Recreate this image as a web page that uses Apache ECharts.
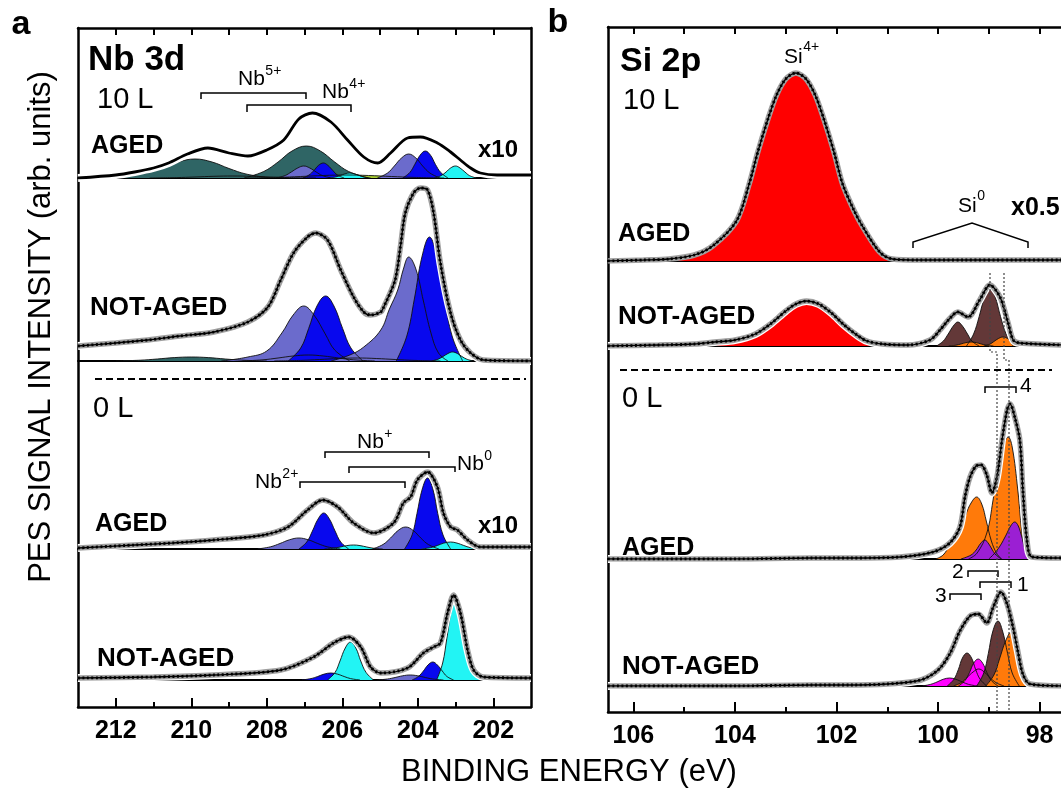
<!DOCTYPE html>
<html><head><meta charset="utf-8">
<script src="https://cdn.jsdelivr.net/npm/echarts@6/dist/echarts.min.js"></script>
<style>html,body{margin:0;padding:0;background:#fff}#c{width:1061px;height:791px}</style>
</head><body><div id="c"></div>
<script>
// ---------------- DATA ----------------
// axis ticks (binding energy, eV)
const nbMajorTicks = [212, 210, 208, 206, 204, 202];
const nbMinorTicks = [211, 209, 207, 205, 203];
const nbTopTicks = [212, 211, 210, 209, 208, 207, 206, 205, 204, 203, 202];
const siMajorTicks = [106, 104, 102, 100, 98];
const siMinorTicks = [105, 103, 101, 99];
const siTopTicks = [106, 105, 104, 103, 102, 101, 100, 99, 98];

// Each spectrum: [binding energy (eV), intensity above its baseline (arb. units)]
// ---- Nb 3d, 10 L, AGED (x10)
const nbA10Env = [[213.0,0],[212.0,3],[211.5,6],[211.0,10],[210.6,15],[210.1,24],[209.56,30],[209.0,25],[208.5,22],[208.0,28],[207.55,38],[207.15,59],[206.79,65],[206.3,56],[205.86,38],[205.43,21],[205.06,15],[204.72,25],[204.27,40],[203.93,41],[203.48,35],[203.13,26],[202.87,18],[202.6,10],[202.34,5],[201.9,3],[201.0,3]];
const nbA10Yg2 = [[211.1,0],[210.4,0.4],[209.9,1],[209.4,1.7],[208.9,2],[208.4,1.7],[207.9,1],[207.4,0.4],[206.7,0]];
const nbA10Yg1 = [[208.5,0],[207.7,0.6],[207.1,1.5],[206.5,2.5],[205.9,3],[205.3,2.5],[204.7,1.5],[204.1,0.6],[203.3,0]];
const nbA10Teal1 = [[213.0,0],[212.2,1.5],[211.3,4.5],[210.8,9.5],[210.35,16],[209.9,19],[209.45,16],[209.0,9.5],[208.55,4],[207.9,0]];
const nbA10Teal2 = [[208.6,0],[208.08,6.5],[207.7,16],[207.33,27],[206.95,32],[206.58,27],[206.2,16],[205.83,6.5],[205.3,0]];
const nbA10Lav1 = [[207.74,0],[207.51,2.5],[207.35,6],[207.18,10],[207.02,12],[206.86,10],[206.69,6],[206.53,2.5],[206.3,0]];
const nbA10Lav2 = [[205.07,0],[204.8,5],[204.62,12],[204.43,20],[204.24,24],[204.05,20],[203.87,12],[203.68,5],[203.41,0]];
const nbA10Blue1 = [[207.05,0],[206.88,3],[206.75,7.5],[206.63,12.6],[206.5,15],[206.38,12.6],[206.25,7.5],[206.13,3],[205.95,0]];
const nbA10Blue2 = [[204.4,0],[204.21,5.5],[204.08,13.5],[203.94,22.7],[203.8,27],[203.66,22.7],[203.53,13.5],[203.39,5.5],[203.2,0]];
const nbA10Cyan1 = [[206.35,0],[206.18,1],[206.05,2.5],[205.93,4.2],[205.8,5],[205.68,4.2],[205.55,2.5],[205.43,1],[205.25,0]];
const nbA10Cyan2 = [[203.55,0],[203.38,2.4],[203.25,6],[203.13,10],[203.0,12],[202.88,10],[202.75,6],[202.63,2.4],[202.45,0]];

// ---- Nb 3d, 10 L, NOT-AGED
const nbN10Env = [[213.0,15],[212.0,18],[211.15,21],[210.3,25],[209.4,29],[208.5,39],[207.97,54],[207.63,81],[207.29,108],[206.92,124],[206.7,128],[206.39,121],[206.04,91],[205.7,64],[205.43,49],[205.25,46],[204.98,49],[204.9,54],[204.6,81],[204.46,114],[204.33,148],[204.11,168],[203.93,173],[203.74,171],[203.58,148],[203.4,98],[203.13,48],[202.87,21],[202.6,8],[202.26,1],[201.0,0]];
const nbN10Teal1 = [[212.0,0],[211.35,0.8],[210.9,2],[210.45,3.4],[210.0,4],[209.55,3.4],[209.1,2],[208.65,0.8],[208.0,0]];
const nbN10Teal2 = [[208.66,0],[208.1,1.2],[207.7,3],[207.3,5],[206.9,6],[206.5,5],[206.1,3],[205.7,1.2],[205.14,0]];
const nbN10Yg = [[207.8,0],[207.1,0.6],[206.6,1.5],[206.1,2.5],[205.6,3],[205.1,2.5],[204.6,1.5],[204.1,0.6],[203.4,0]];
const nbN10Lav1 = [[209.2,0],[208.5,4],[208.0,10],[207.6,28],[207.3,46],[207.02,55],[206.75,46],[206.45,27],[206.2,11],[205.8,0]];
const nbN10Blue1 = [[207.43,0],[207.1,13],[206.89,32.5],[206.67,55],[206.44,65],[206.22,55],[205.99,32.5],[205.77,13],[205.45,0]];
const nbN10Lav2 = [[206.3,0],[205.8,6],[205.43,14],[204.98,31],[204.75,52],[204.53,71],[204.38,92],[204.24,104],[204.05,92],[203.85,60],[203.65,28],[203.45,8],[203.2,0]];
const nbN10Blue2 = [[204.57,0],[204.29,25],[204.09,62],[203.89,104],[203.69,124],[203.49,104],[203.29,62],[203.09,25],[202.81,0]];
const nbN10Cyan = [[203.63,0],[203.46,1.8],[203.33,4.5],[203.2,7.5],[203.08,9],[202.95,7.5],[202.83,4.5],[202.7,1.8],[202.53,0]];

// ---- Nb 3d, 0 L, AGED (x10)
const nbA0Env = [[213.0,1],[211.5,4],[210.5,6],[209.4,9],[208.08,14],[207.44,22],[206.92,39],[206.52,49],[206.12,42],[205.7,26],[205.17,16],[204.64,26],[204.38,46],[204.19,52],[204.01,69],[203.74,77],[203.48,62],[203.32,36],[203.13,22],[202.95,19],[202.68,9],[202.34,2],[201.0,2]];
const nbA0Lav1 = [[208.25,0],[207.9,2.2],[207.65,5.5],[207.4,9.2],[207.15,11],[206.9,9.2],[206.65,5.5],[206.4,2.2],[206.05,0]];
const nbA0Blue1 = [[207.15,0],[206.94,7],[206.79,18],[206.64,30],[206.49,36],[206.34,30],[206.19,18],[206.04,7],[205.83,0]];
const nbA0Cyan1 = [[206.47,0],[206.23,0.8],[206.05,2],[205.88,3.4],[205.7,4],[205.53,3.4],[205.35,2],[205.18,0.8],[204.93,0]];
const nbA0Lav2 = [[205.2,0],[204.92,4.5],[204.72,11],[204.52,18.5],[204.32,22],[204.12,18.5],[203.92,11],[203.72,4.5],[203.44,0]];
const nbA0Blue2 = [[204.35,0],[204.15,14],[204.02,35.5],[203.88,60],[203.74,71],[203.6,60],[203.47,35.5],[203.33,14],[203.13,0]];
const nbA0Cyan2 = [[203.9,0],[203.66,1.4],[203.48,3.5],[203.31,5.9],[203.13,7],[202.96,5.9],[202.78,3.5],[202.61,1.4],[202.36,0]];

// ---- Nb 3d, 0 L, NOT-AGED
const nbN0Env = [[213.0,2],[211.0,3],[209.4,5],[207.63,10],[206.76,23],[206.23,37],[205.83,43],[205.51,33],[205.25,13],[204.98,7],[204.27,12],[203.85,27],[203.58,33],[203.4,37],[203.21,67],[203.05,85],[202.87,67],[202.68,30],[202.52,10],[202.26,3],[201.0,2]];
const nbN0Blue1 = [[207.07,0],[206.83,1.4],[206.65,3.5],[206.48,5.9],[206.3,7],[206.13,5.9],[205.95,3.5],[205.78,1.4],[205.53,0]];
const nbN0Cyan1 = [[206.39,0],[206.19,7.6],[206.06,19],[205.92,32],[205.78,38],[205.64,32],[205.51,19],[205.37,7.6],[205.17,0]];
const nbN0Lav = [[205.08,0],[204.8,1],[204.6,2.5],[204.4,4.2],[204.2,5],[204.0,4.2],[203.8,2.5],[203.6,1],[203.32,0]];
const nbN0Blue2 = [[204.15,0],[203.98,3.6],[203.85,9],[203.73,15],[203.6,18],[203.48,15],[203.35,9],[203.23,3.6],[203.05,0]];
const nbN0Cyan2 = [[203.5,0],[203.34,17],[203.23,41.5],[203.11,70],[203.0,83],[202.89,70],[202.78,45],[202.65,22],[202.45,6],[202.25,0]];

// ---- Si 2p, 10 L, AGED (x0.5)
const siA10Env = [[106.5,0],[105.8,1],[105.3,2],[104.8,6],[104.44,15],[103.97,40],[103.72,77],[103.55,109],[103.35,142],[103.18,166],[103.0,182],[102.8,188],[102.6,182],[102.42,166],[102.25,142],[102.05,109],[101.88,77],[101.65,50],[101.48,34],[101.15,9],[100.9,2],[100.4,1],[99.5,1],[98.5,1],[97.5,1]];
const siA10Red = [[105.3,0],[104.8,5],[104.44,14],[103.97,38],[103.72,75],[103.55,107],[103.35,140],[103.18,164],[103.0,180],[102.8,186],[102.6,180],[102.42,164],[102.25,140],[102.05,107],[101.88,75],[101.65,48],[101.48,32],[101.15,8],[100.95,0]];

// ---- Si 2p, 10 L, NOT-AGED
const siN10Env = [[106.5,0],[105.5,1],[104.8,2],[104.4,4],[104.0,6],[103.6,12],[103.3,22],[103.0,35],[102.8,42],[102.59,45],[102.35,42],[102.1,33],[101.85,21],[101.6,11],[101.4,5],[101.1,2],[100.6,1],[100.16,6],[99.96,16],[99.78,27],[99.61,34],[99.41,29],[99.18,46],[98.98,61],[98.78,49],[98.62,23],[98.52,6],[98.39,3],[97.5,1]];
const siN10Red = [[104.5,0],[104.0,4],[103.6,10],[103.3,20],[103.0,33],[102.8,40],[102.59,43],[102.35,40],[102.1,31],[101.85,19],[101.6,9],[101.4,3],[101.2,0]];
const siN10Brown1 = [[100.03,0],[99.9,4.8],[99.8,12],[99.7,20],[99.61,24],[99.52,20],[99.42,12],[99.33,4.8],[99.19,0]];
const siN10Brown2 = [[99.44,0],[99.3,12],[99.19,29.5],[99.08,50],[98.98,59],[98.88,50],[98.77,29.5],[98.66,12],[98.52,0]];
const siN10Orange1 = [[99.79,0],[99.65,0.8],[99.55,2],[99.45,3.4],[99.35,4],[99.25,3.4],[99.15,2],[99.05,0.8],[98.91,0]];
const siN10Orange2 = [[99.1,0],[98.98,1.8],[98.9,4.5],[98.81,7.5],[98.72,9],[98.63,7.5],[98.54,4.5],[98.46,1.8],[98.34,0]];

// ---- Si 2p, 0 L, AGED
const siA0Env = [[106.5,0],[104.0,0],[102.5,1],[101.74,1],[100.75,2],[100.1,7],[99.77,16],[99.57,32],[99.47,62],[99.37,82],[99.25,93],[99.15,94],[99.04,84],[98.94,66],[98.84,82],[98.74,119],[98.64,149],[98.58,155],[98.49,142],[98.39,119],[98.33,69],[98.25,19],[98.15,2],[97.5,1]];
const siA0Orange1 = [[100.05,0],[99.9,4],[99.77,14],[99.57,29],[99.45,45],[99.35,56],[99.24,62],[99.14,55],[99.05,38],[98.95,18],[98.85,6],[98.75,0]];
const siA0Orange2 = [[99.4,0],[99.23,6],[99.04,26],[98.92,58],[98.8,98],[98.7,115],[98.62,122],[98.54,112],[98.43,69],[98.33,19],[98.25,6],[98.1,0]];
const siA0Purple1 = [[99.55,0],[99.35,4],[99.25,9],[99.17,15],[99.08,19],[99.0,15],[98.93,9],[98.86,4],[98.75,0]];
const siA0Purple2 = [[99.0,0],[98.9,5],[98.78,13],[98.66,24],[98.57,33],[98.49,37],[98.42,33],[98.35,22],[98.27,10],[98.18,2],[98.1,0]];

// ---- Si 2p, 0 L, NOT-AGED
const siN0Env = [[106.5,0],[104.0,0],[102.5,1],[101.74,1],[100.42,5],[100.02,15],[99.77,32],[99.57,55],[99.37,70],[99.21,72],[99.04,63],[98.92,78],[98.76,94],[98.64,82],[98.52,58],[98.43,35],[98.33,12],[98.19,2],[97.5,0]];
const siN0Magenta1 = [[100.32,0],[100.15,1.6],[100.02,4],[99.9,6.7],[99.77,8],[99.65,6.7],[99.52,4],[99.4,1.6],[99.22,0]];
const siN0Brown1 = [[99.82,0],[99.69,6.6],[99.6,16.5],[99.52,28],[99.43,33],[99.34,28],[99.26,16.5],[99.17,6.6],[99.04,0]];
const siN0Orange1 = [[99.7,0],[99.54,3.4],[99.43,8.5],[99.31,14],[99.2,17],[99.09,14],[98.98,8.5],[98.86,3.4],[98.7,0]];
const siN0Magenta2 = [[99.6,0],[99.47,5.4],[99.38,13.5],[99.3,22.7],[99.21,27],[99.12,22.7],[99.04,13.5],[98.95,5.4],[98.82,0]];
const siN0Brown2 = [[99.24,0],[99.1,13],[99.01,32.5],[98.92,55],[98.82,65],[98.73,55],[98.63,32.5],[98.54,13],[98.4,0]];
const siN0Orange2 = [[99.06,0],[98.9,11],[98.79,27],[98.67,45],[98.56,54],[98.5,45],[98.45,35],[98.35,12],[98.28,2],[98.2,0]];

// ---------------- STYLE / LAYOUT ----------------
const FONT = '"Liberation Sans", Arial, Helvetica, sans-serif';
const C = {
  teal: '#2f6565', lav: '#6b6bcc', blue: '#0808ee', cyan: '#22f4f4', yg: '#a6cc33',
  red: '#ff0000', brown: '#633838', orange: '#ff7a0a', purple: '#9b1fd3', magenta: '#ff00ff'
};
const grids = [], xAxes = [], yAxes = [], series = [];

function addFrame(left, right, top, bottom, min, max, major, minor, topT, majLen, labMargin) {
  const gi = grids.length;
  grids.push({left, right, top, bottom, containLabel: false, outerBoundsMode: 'none'});
  const base = {type: 'value', gridIndex: gi, min, max, inverse: true, splitLine: {show: false}};
  xAxes.push(Object.assign({}, base, {
    position: 'bottom',
    axisLine: {show: true, onZero: false, lineStyle: {color: '#000', width: 2.5}},
    axisTick: {show: true, inside: true, length: majLen, customValues: major, lineStyle: {color: '#000', width: 2}},
    axisLabel: {show: true, inside: false, customValues: major, margin: labMargin, color: '#000', fontSize: 25, fontWeight: 'bold', fontFamily: FONT, formatter: v => String(v)}
  }));
  xAxes.push(Object.assign({}, base, {
    position: 'bottom', axisLine: {show: false, onZero: false},
    axisTick: {show: true, inside: true, length: 5, customValues: minor, lineStyle: {color: '#000', width: 2}},
    axisLabel: {show: false}
  }));
  xAxes.push(Object.assign({}, base, {
    position: 'top',
    axisLine: {show: true, onZero: false, lineStyle: {color: '#000', width: 2.5}},
    axisTick: {show: true, inside: true, length: 7, customValues: topT, lineStyle: {color: '#000', width: 2}},
    axisLabel: {show: false}
  }));
  ['left', 'right'].forEach(p => yAxes.push({
    type: 'value', gridIndex: gi, min: 0, max: 1, position: p,
    axisLine: {show: true, onZero: false, lineStyle: {color: '#000', width: 2.5}},
    axisTick: {show: false}, axisLabel: {show: false}, splitLine: {show: false}
  }));
}

function addSub(left, right, top, height, min, max) {
  const gi = grids.length;
  grids.push({left, right, top, height, containLabel: false, outerBoundsMode: 'none'});
  xAxes.push({type: 'value', gridIndex: gi, min, max, inverse: true, position: 'bottom',
    axisLine: {show: true, onZero: false, lineStyle: {color: '#000', width: 2}},
    axisTick: {show: false}, axisLabel: {show: false}, splitLine: {show: false}});
  yAxes.push({type: 'value', gridIndex: gi, min: 0, max: height, show: false, splitLine: {show: false}});
  return {x: xAxes.length - 1, y: yAxes.length - 1};
}

function comp(ax, data, color) {
  series.push({type: 'line', xAxisIndex: ax.x, yAxisIndex: ax.y, data, smooth: 0.4, symbol: 'none',
    lineStyle: {color: '#111', width: 0.9}, areaStyle: {color, opacity: 1}, z: 2, silent: true});
}
function env(ax, data, mode) {
  const s = {type: 'line', xAxisIndex: ax.x, yAxisIndex: ax.y, data, smooth: 0.3, symbol: 'none', silent: true};
  if (mode !== 'nohalo') series.push(Object.assign({}, s, {lineStyle: {color: '#fff', width: 8}, z: 3}));
  if (mode === 'solid') {
    series.push(Object.assign({}, s, {lineStyle: {color: '#000', width: 2.8}, z: 4}));
  } else {
    series.push(Object.assign({}, s, {lineStyle: {color: '#a0a0a0', width: 5.5}, z: 4}));
    series.push(Object.assign({}, s, {lineStyle: {color: '#000', width: 1.3}, z: 5}));
    series.push(Object.assign({}, s, {lineStyle: {color: '#000', width: 2.8, type: [2, 2.5]}, z: 5}));
  }
}

// Left panel (Nb 3d)
addFrame(78, 530, 28, 84, 201, 213, nbMajorTicks, nbMinorTicks, nbTopTicks, 9, 12);
const L1 = addSub(78, 530, 28, 150, 201, 213);
const L2 = addSub(78, 530, 181, 180, 201, 213);
const L3 = addSub(78, 530, 385, 164, 201, 213);
const L4 = addSub(78, 530, 551, 129, 201, 213);
// Right panel (Si 2p)
addFrame(608, -4, 27, 79, 97.5, 106.5, siMajorTicks, siMinorTicks, siTopTicks, 10, 12);
const R1 = addSub(608, -4, 27, 234, 97.5, 106.5);
const R2 = addSub(608, -4, 263, 83, 97.5, 106.5);
const R3 = addSub(608, -4, 375, 184, 97.5, 106.5);
const R4 = addSub(608, -4, 561, 125, 97.5, 106.5);

[[nbA10Yg2, C.yg], [nbA10Yg1, C.yg], [nbA10Teal1, C.teal], [nbA10Teal2, C.teal], [nbA10Lav1, C.lav], [nbA10Lav2, C.lav],
 [nbA10Blue1, C.blue], [nbA10Blue2, C.blue], [nbA10Cyan1, C.cyan], [nbA10Cyan2, C.cyan]].forEach(d => comp(L1, d[0], d[1]));
env(L1, nbA10Env, 'solid');
[[nbN10Teal1, C.teal], [nbN10Teal2, C.teal], [nbN10Yg, C.yg], [nbN10Lav1, C.lav], [nbN10Blue1, C.blue], [nbN10Lav2, C.lav],
 [nbN10Blue2, C.blue], [nbN10Cyan, C.cyan]].forEach(d => comp(L2, d[0], d[1]));
env(L2, nbN10Env, 'dots');
[[nbA0Lav1, C.lav], [nbA0Blue1, C.blue], [nbA0Cyan1, C.cyan], [nbA0Lav2, C.lav], [nbA0Blue2, C.blue], [nbA0Cyan2, C.cyan]].forEach(d => comp(L3, d[0], d[1]));
env(L3, nbA0Env, 'dots');
[[nbN0Blue1, C.blue], [nbN0Cyan1, C.cyan], [nbN0Lav, C.lav], [nbN0Blue2, C.blue], [nbN0Cyan2, C.cyan]].forEach(d => comp(L4, d[0], d[1]));
env(L4, nbN0Env, 'dots');

comp(R1, siA10Red, C.red);
env(R1, siA10Env, 'nohalo');
[[siN10Red, C.red], [siN10Brown1, C.brown], [siN10Brown2, C.brown], [siN10Orange1, C.orange], [siN10Orange2, C.orange]].forEach(d => comp(R2, d[0], d[1]));
env(R2, siN10Env, 'dots');
[[siA0Orange1, C.orange], [siA0Orange2, C.orange], [siA0Purple1, C.purple], [siA0Purple2, C.purple]].forEach(d => comp(R3, d[0], d[1]));
env(R3, siA0Env, 'dots');
[[siN0Magenta1, C.magenta], [siN0Brown1, C.brown], [siN0Orange1, C.orange], [siN0Magenta2, C.magenta], [siN0Brown2, C.brown], [siN0Orange2, C.orange]].forEach(d => comp(R4, d[0], d[1]));
env(R4, siN0Env, 'dots');

// ---------------- ANNOTATIONS ----------------
const graphic = [];
function txt(x, y, text, size, bold, align) {
  graphic.push({type: 'text', x, y, z: 100, silent: true,
    style: {text, fill: '#000', font: (bold ? 'bold ' : '') + size + 'px ' + FONT, align: align || 'left', verticalAlign: 'middle'}});
}
const mctx = document.createElement('canvas').getContext('2d');
function supLabel(x, y, main, sup, size, supSize, supDy) {
  txt(x, y, main, size, false);
  mctx.font = size + 'px ' + FONT;
  const w = mctx.measureText(main).width;
  txt(x + w + 0.5, y - supDy, sup, supSize, false);
}
function poly(points, dash, color, width) {
  graphic.push({type: 'polyline', z: 100, silent: true, shape: {points},
    style: {stroke: color || '#000', lineWidth: width || 1.5, fill: null, lineDash: dash || null}});
}

txt(21, 25, 'a', 34, true, 'center');
txt(558, 23, 'b', 34, true, 'center');
graphic.push({type: 'text', x: 41, y: 327, rotation: Math.PI / 2, z: 100, silent: true,
  style: {text: 'PES SIGNAL INTENSITY (arb. units)', fill: '#000', font: '31px ' + FONT, align: 'center', verticalAlign: 'middle'}});
txt(569, 772, 'BINDING ENERGY (eV)', 31, false, 'center');

// Nb panel labels
txt(88, 60, 'Nb 3d', 35, true);
txt(97, 100, '10 L', 29, false);
txt(91, 146, 'AGED', 25, true);
txt(478, 150, 'x10', 24, true);
txt(90, 308, 'NOT-AGED', 26, true);
txt(93, 409, '0 L', 29, false);
txt(95, 524, 'AGED', 25, true);
txt(478, 526, 'x10', 24, true);
txt(97, 659, 'NOT-AGED', 26, true);
supLabel(238, 79, 'Nb', '5+', 21, 14, 8);
supLabel(322, 92, 'Nb', '4+', 21, 14, 8);
supLabel(357, 442, 'Nb', '+', 21, 14, 8);
supLabel(457, 464, 'Nb', '0', 21, 14, 8);
supLabel(255, 482, 'Nb', '2+', 21, 14, 8);
poly([[201, 99], [201, 93], [306, 93], [306, 99]]);
poly([[247, 112], [247, 105], [351, 105], [351, 112]]);
poly([[325, 458], [325, 452], [429, 452], [429, 458]]);
poly([[349, 473], [349, 467], [455, 467], [455, 472]]);
poly([[300, 488], [300, 482], [405, 482], [405, 488]]);
poly([[95, 379], [526, 379]], [7, 4], '#000', 2);

// Si panel labels
txt(620, 62, 'Si 2p', 34, true);
txt(623, 101, '10 L', 29, false);
supLabel(784, 57, 'Si', '4+', 21, 14, 10);
txt(618, 234, 'AGED', 25, true);
supLabel(958, 206, 'Si', '0', 21, 14, 10);
txt(1011, 208, 'x0.5', 25, true);
txt(618, 317, 'NOT-AGED', 26, true);
txt(622, 399, '0 L', 29, false);
txt(622, 548, 'AGED', 25, true);
txt(622, 667, 'NOT-AGED', 26, true);
txt(1020, 386, '4', 21, false);
txt(952, 572, '2', 21, false);
txt(1017, 585, '1', 21, false);
txt(935, 596, '3', 21, false);
poly([[913, 248], [913, 242], [972, 223], [1028, 242], [1028, 248]]);
poly([[985, 393], [985, 387], [1016, 387], [1016, 393]]);
poly([[968, 577], [968, 571], [998, 571], [998, 577]]);
poly([[980, 588], [980, 582], [1011, 582], [1011, 588]]);
poly([[950, 600], [950, 594], [981, 594], [981, 600]]);
poly([[990, 273], [990, 352], [997, 352], [997, 712]], [2, 2], '#444', 1.2);
poly([[1004, 273], [1004, 360], [1009, 360], [1009, 712]], [2, 2], '#444', 1.2);
poly([[620, 370], [1052, 370]], [7, 4], '#000', 2);

const chart = echarts.init(document.getElementById('c'), null, {renderer: 'canvas'});
chart.setOption({
  animation: false, backgroundColor: '#fff',
  grid: grids, xAxis: xAxes, yAxis: yAxes, series, graphic
});
</script></body></html>
